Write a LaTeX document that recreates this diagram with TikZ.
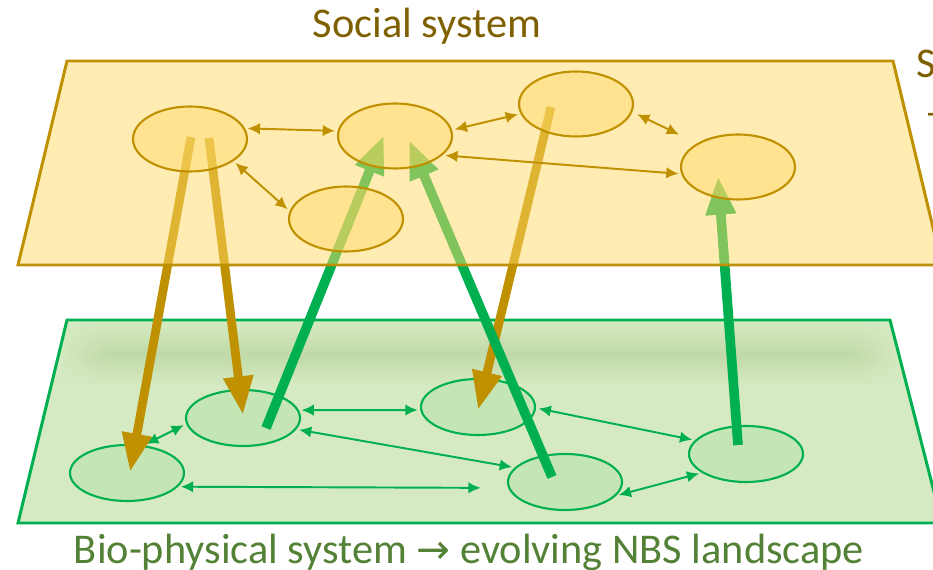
\documentclass[tikz,border=0pt]{standalone}
\usepackage{fontspec}
\setmainfont{Carlito}
\newfontfamily\symfont{DejaVu Sans}
\usetikzlibrary{shapes.geometric,arrows.meta,fadings}
\definecolor{socgold}{RGB}{191,144,0}
\definecolor{socfill}{RGB}{255,217,102}
\definecolor{soctext}{RGB}{127,96,0}
\definecolor{biogreen}{RGB}{0,176,80}
\definecolor{biofill}{RGB}{213,234,194}
\definecolor{bioshadow}{RGB}{193,217,167}
\definecolor{bionodefill}{RGB}{195,230,180}
\definecolor{biotext}{RGB}{83,129,53}

\pgfdeclarelayer{bio}
\pgfdeclarelayer{flow}
\pgfdeclarelayer{socplane}
\pgfsetlayers{bio,flow,socplane,main}

% soft ends for the shadow band
\pgfdeclarehorizontalshading{sideshade}{100bp}{color(0bp)=(black); color(25bp)=(black);
  color(28bp)=(white); color(72bp)=(white); color(75bp)=(black); color(100bp)=(black)}
\pgfdeclarefading{sidefade}{\pgfuseshading{sideshade}}

\tikzset{
  socnode/.style={ellipse, draw=socgold, line width=1.2pt, fill=socfill, fill opacity=0.45,
    minimum width=2.28cm, minimum height=1.3cm, inner sep=0pt},
  bionode/.style={ellipse, draw=biogreen, line width=1.2pt, fill=bionodefill,
    minimum width=2.28cm, minimum height=1.12cm, inner sep=0pt},
  soclink/.style={{Latex[length=7pt,width=6.5pt]}-{Latex[length=7pt,width=6.5pt]}, socgold,
    line width=1.1pt, shorten <=1.5pt, shorten >=1.5pt},
  biolink/.style={{Latex[length=7pt,width=6.5pt]}-{Latex[length=7pt,width=6.5pt]}, biogreen,
    line width=1.1pt, shorten <=1.5pt, shorten >=1.5pt},
  downflow/.style={-{Triangle[length=22pt,width=16pt]}, socgold, line width=5pt},
  upflow/.style={-{Triangle[length=22pt,width=16pt]}, biogreen, line width=5.5pt},
  plane/.style={line width=1.7pt, line join=miter},
  title/.style={font=\fontsize{24.1}{28}\selectfont}
}

\begin{document}
\begin{tikzpicture}[x=0.02cm, y=-0.02cm, >=latex]
\useasboundingbox (0,0) rectangle (933,570);

% bio-physical plane
\begin{pgfonlayer}{bio}
\fill[biofill] (67,320) -- (890,320) -- (942,523) -- (18,523) -- cycle;
\begin{scope}
  \clip (67,320) -- (890,320) -- (942,523) -- (18,523) -- cycle;
  \shade[top color=biofill, bottom color=biofill, middle color=bioshadow, path fading=sidefade]
    (60,322) rectangle (900,386);
\end{scope}
\draw[plane, biogreen] (67,320) -- (890,320) -- (942,523) -- (18,523) -- cycle;

\node[bionode] (b1) at (127,473) {};
\node[bionode] (b2) at (243,418) {};
\node[bionode] (b3) at (478,407) {};
\node[bionode] (b4) at (565,482) {};
\node[bionode] (b5) at (746,454) {};

\foreach \a/\b in {b1.59/b2.186, b2.8/b3.183, b2.348/b4.164, b3.359/b5.165, b4.345/b5.203}
  \draw[biolink] (\a) -- (\b);
\draw[biolink, shorten >=0.55cm] (b1.345) -- (b4.186);
\end{pgfonlayer}

% social plane
\begin{pgfonlayer}{socplane}
\fill[socfill, fill opacity=0.5] (67,61) -- (893,61) -- (942,265) -- (18,265) -- cycle;
\draw[plane, socgold] (67,61) -- (893,61) -- (942,265) -- (18,265) -- cycle;
\end{pgfonlayer}

\node[socnode] (s1) at (190,139) {};
\node[socnode] (s2) at (395,136) {};
\node[socnode] (s3) at (576,104) {};
\node[socnode] (s4) at (346,219) {};
\node[socnode] (s5) at (738,167) {};

\foreach \a/\b in {s1.11/s2.175, s2.6/s3.190, s1.333/s4.172, s2.338/s5.187}
  \draw[soclink] (\a) -- (\b);
\draw[soclink, shorten <=3pt, shorten >=0.4cm] (s3.352) -- (s5.150);

% flows between the two systems
\begin{pgfonlayer}{flow}
\draw[downflow] ([shift={(1,-2)}]s1.center) -- ([shift={(3,-1)}]b1.center);
\draw[downflow] ([shift={(19,-1)}]s1.center) -- ([shift={(0,-3)}]b2.center);
\draw[downflow] ([shift={(-25,3)}]s3.center) -- ([shift={(0,3)}]b3.center);
\draw[upflow] ([shift={(23,10)}]b2.center) -- ([shift={(-11,-1)}]s2.center);
\draw[upflow] ([shift={(-13,-5)}]b4.center) -- ([shift={(14,4)}]s2.center);
\draw[upflow] ([shift={(-8,-9)}]b5.center) -- ([shift={(-20,9)}]s5.center);
\end{pgfonlayer}

% titles
\node[title, anchor=base, text=soctext] (soctitle) at (427,38) {Social system};
\node[title, anchor=base, text=biotext] (biotitle) at (469,563)
  {Bio-physical system {\symfont\fontsize{23}{27}\selectfont →} evolving NBS landscape};
\node[title, anchor=base west, text=soctext, inner sep=0pt] (socside) at (916,78) {S};
\node[title, anchor=base west, text=soctext, inner sep=0pt] (socdash) at (925,127) {–};
\end{tikzpicture}
\end{document}
